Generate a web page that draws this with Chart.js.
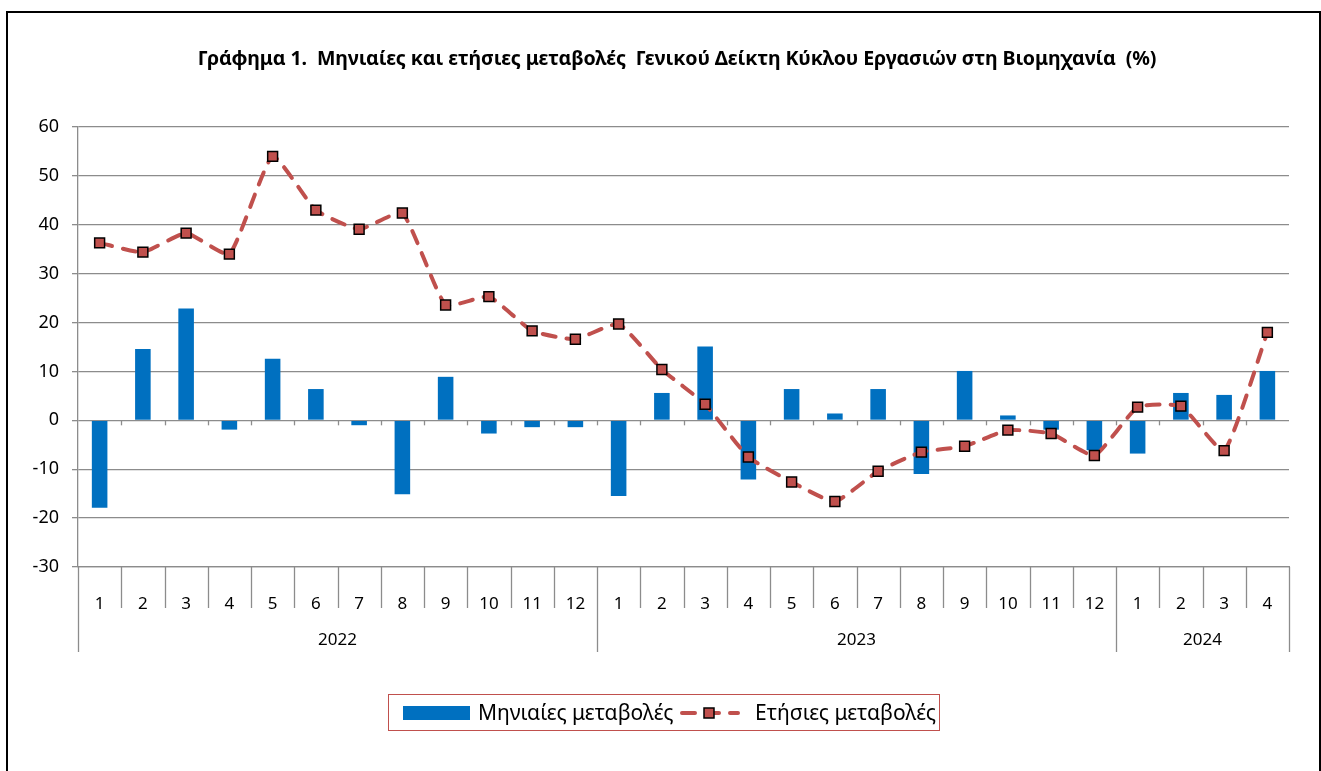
<!DOCTYPE html>
<html lang="el">
<head>
<meta charset="utf-8">
<title>Γράφημα 1</title>
<script src="https://cdn.jsdelivr.net/npm/chart.js@4/dist/chart.umd.min.js"></script>
<style>
  html, body { margin: 0; padding: 0; background: #fff; overflow: hidden; }
  body { width: 1321px; height: 771px; position: relative; font-family: 'Noto Sans', sans-serif; }
  #frame { position: absolute; left: 6px; top: 11px; width: 1315px; height: 800px; box-sizing: border-box; border: 2px solid #000; }
  #chart { position: absolute; left: 0; top: 0; }
  #title { position: absolute; left: 0; width: 1354px; top: 44px; text-align: center; font-weight: bold; font-size: 19.6px; white-space: pre; color: #000; letter-spacing: -0.1px; }
  #legend { position: absolute; left: 388px; top: 694px; width: 552px; height: 37px; box-sizing: border-box; border: 1px solid #C0504D; font-size: 21px; color: #000; overflow: hidden; }
  #legend span { position: absolute; top: 3px; white-space: nowrap; }
  #legend .bar { position: absolute; left: 14px; top: 11px; width: 67px; height: 14px; background: #0070C0; }
</style>
</head>
<body>
<div id="frame"></div>
<canvas id="chart" width="1321" height="771"></canvas>
<div id="title">Γράφημα 1.  Μηνιαίες και ετήσιες μεταβολές  Γενικού Δείκτη Κύκλου Εργασιών στη Βιομηχανία  (%)</div>
<div id="legend">
  <div class="bar"></div>
  <span style="left:89px">Μηνιαίες μεταβολές</span>
  <svg style="position:absolute;left:291px;top:8px" width="60" height="20">
    <line x1="2" y1="10" x2="58" y2="10" stroke="#C0504D" stroke-width="4" stroke-dasharray="13 11" stroke-linecap="round"/>
    <rect x="24" y="5" width="10" height="10" fill="#C0504D" stroke="#000" stroke-width="1.5"/>
  </svg>
  <span style="left:366px">Ετήσιες μεταβολές</span>
</div>
<script>
'use strict';

const months = ['1', '2', '3', '4', '5', '6', '7', '8', '9', '10', '11', '12',
  '1', '2', '3', '4', '5', '6', '7', '8', '9', '10', '11', '12',
  '1', '2', '3', '4'];
const years = ['2022', '2023', '2024'];
const yearSpans = [12, 12, 4];
const monthlyChange = [-17.9, 14.6, 22.9, -1.9, 12.6, 6.4, -1.0, -15.1, 8.9, -2.7, -1.4, -1.4,
  -15.5, 5.6, 15.1, -12.1, 6.4, 1.4, 6.4, -11.0, 10.1, 1.0, -1.9, -6.1,
  -6.8, 5.6, 5.2, 10.1];
const annualChange = [36.3, 34.4, 38.3, 34.0, 54.0, 43.0, 39.1, 42.4, 23.6, 25.3, 18.3, 16.6,
  19.7, 10.4, 3.3, -7.5, -12.6, -16.6, -10.4, -6.5, -5.3, -2.0, -2.7, -7.2,
  2.7, 2.9, -6.2, 18.0];

const GRID = '#8c8c8c';
const TEXT = '#000';

// month separators, year row and the small ticks on the zero line
const categoryAxis = {
  id: 'categoryAxis',
  afterDraw(chart) {
    const { ctx, chartArea } = chart;
    const xs = chart.scales.x;
    const ys = chart.scales.y;
    const n = months.length;
    const edge = i => {
      if (i === 0) return chartArea.left;
      if (i === n) return chartArea.right;
      return (xs.getPixelForValue(i - 1) + xs.getPixelForValue(i)) / 2;
    };
    const yearEdges = [0];
    yearSpans.forEach(span => yearEdges.push(yearEdges[yearEdges.length - 1] + span));
    const bottom = chartArea.bottom;
    const zero = ys.getPixelForValue(0);
    ctx.save();
    ctx.strokeStyle = GRID;
    ctx.lineWidth = 1.3;
    for (let i = 0; i <= n; i++) {
      const px = Math.round(edge(i)) + 0.5;
      const long = yearEdges.includes(i);
      ctx.beginPath();
      ctx.moveTo(px, bottom);
      ctx.lineTo(px, bottom + (long ? 85 : 41));
      ctx.stroke();
      if (i > 0 && i < n) {
        ctx.beginPath();
        ctx.moveTo(px, zero);
        ctx.lineTo(px, zero + 5);
        ctx.stroke();
      }
    }
    ctx.fillStyle = TEXT;
    ctx.font = '17px "Noto Sans"';
    ctx.textAlign = 'center';
    ctx.textBaseline = 'middle';
    years.forEach((year, k) => {
      const mid = (edge(yearEdges[k]) + edge(yearEdges[k + 1])) / 2;
      ctx.fillText(year, mid, bottom + 73);
    });
    ctx.restore();
  },
};

new Chart(document.getElementById('chart'), {
  type: 'bar',
  data: {
    labels: months,
    datasets: [
      {
        type: 'line',
        label: 'Ετήσιες μεταβολές',
        data: annualChange,
        borderColor: '#C0504D',
        borderWidth: 4,
        borderDash: [13, 11],
        borderCapStyle: 'round',
        tension: 0.15,
        pointStyle: 'rect',
        pointRadius: 7,
        pointBackgroundColor: '#C0504D',
        pointBorderColor: '#000',
        pointBorderWidth: 1.5,
        order: 1,
      },
      {
        label: 'Μηνιαίες μεταβολές',
        data: monthlyChange,
        backgroundColor: '#0070C0',
        barPercentage: 0.36,
        categoryPercentage: 1,
        order: 2,
      },
    ],
  },
  options: {
    responsive: false,
    animation: false,
    devicePixelRatio: 1,
    layout: { padding: { left: 0, right: 32, top: 127, bottom: 119 } },
    plugins: { legend: { display: false }, tooltip: { enabled: false } },
    scales: {
      x: {
        grid: { display: false },
        border: { display: true, color: GRID, width: 1.3 },
        ticks: { color: TEXT, font: { family: 'Noto Sans', size: 17 }, padding: 19, maxRotation: 0, autoSkip: false },
        afterFit: scale => { scale.height = 85; },
      },
      y: {
        min: -30,
        max: 60,
        ticks: { stepSize: 10, color: TEXT, font: { family: 'Noto Sans', size: 18 }, padding: 13 },
        grid: { color: GRID, lineWidth: 1.3, tickLength: 6 },
        border: { color: GRID, width: 1.3 },
        afterFit: scale => { scale.width = 78; },
      },
    },
  },
  plugins: [categoryAxis],
});
</script>
</body>
</html>
